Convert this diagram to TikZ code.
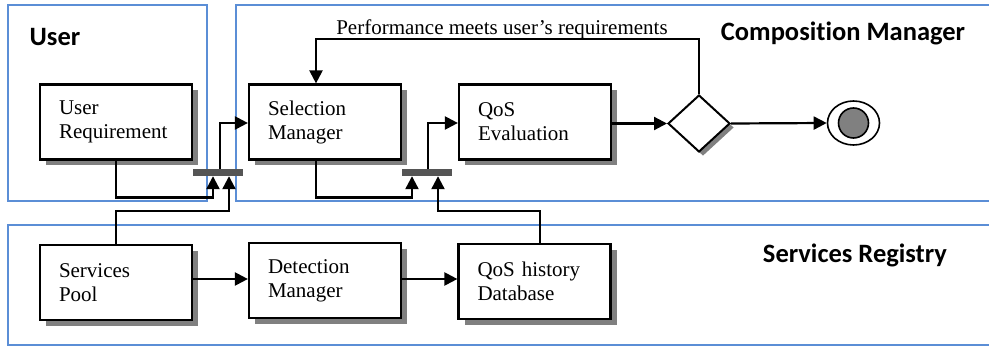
\documentclass[tikz,border=0pt]{standalone}
\usepackage{fontspec}
\setmainfont{Liberation Serif}
\newfontfamily\lblfont[Ligatures=NoCommon]{Carlito}
\usetikzlibrary{shapes.geometric,shadows,arrows.meta}
\definecolor{cblue}{HTML}{5B8ED6}
\definecolor{shgray}{HTML}{808080}
\definecolor{bargray}{HTML}{555555}
\tikzset{
  container/.style={draw=cblue,line width=1.6pt},
  procbox/.style={draw=black,line width=2.2pt,fill=white,rectangle,
    minimum width=152pt,text width=114pt,
    minimum height=75pt,inner xsep=19pt,inner ysep=0pt,align=left,
    font=\fontsize{21}{24}\selectfont,
    general shadow={fill=shgray,shadow xshift=6pt,shadow yshift=-6pt}},
  barbox/.style={rectangle,fill=bargray,minimum width=50pt,minimum height=7pt,inner sep=0pt},
  arr/.style={line width=2.2pt,-{Triangle[length=13pt,width=13pt]}},
  grplabel/.style={font=\lblfont\bfseries\fontsize{26.5}{30}\selectfont,inner sep=0pt},
}
\begin{document}
\begin{tikzpicture}[x=1pt,y=-1pt]
\useasboundingbox (0,0) rectangle (989,347);
\clip (0,0) rectangle (989,347);
% containers
\draw[container] (8,5) rectangle (207,201);
\draw[container] (236,5) rectangle (1000,201);
\draw[container] (8,225) rectangle (1000,345);
\node[grplabel] (lu) at (55,37) {User};
\node[grplabel] (lc) at (843,33) {Composition Manager};
\node[grplabel] (ls) at (855,255) {Services Registry};
% process boxes
\node[procbox] (ur) at (116,122) {User\\Requirement};
\node[procbox] (sm) at (325,122) {Selection\\Manager};
\node[procbox] (qe) at (535,122) {QoS\\Evaluation};
\node[procbox] (sp) at (116,282.5) {Services\\Pool};
\node[procbox] (dt) at (325,280.5) {Detection\\Manager};
\node[procbox] (db) at (534.5,281.5) {QoS history\\Database};
% decision and end
\node[diamond,draw=black,line width=2pt,fill=white,minimum width=62pt,minimum height=57pt,inner sep=0pt,
  general shadow={fill=shgray,shadow xshift=4pt,shadow yshift=-4pt}] (dm) at (699,123.5) {};
\node[ellipse,draw=black,line width=1.6pt,fill=white,minimum width=52pt,minimum height=44pt,inner sep=0pt] (en) at (853.5,123) {};
\node[circle,draw=black,line width=1.6pt,fill=shgray,minimum size=30pt,inner sep=0pt] (enin) at (en.center) {};
% bars
\node[barbox] (bar1) at (218,172.5) {};
\node[barbox] (bar2) at (426.5,172.5) {};
% connectors
\draw[arr] (ur.south) -- ++(0,37) -| ([xshift=-5pt]bar1.south);
\draw[arr] (sp.north) -- ++(0,-33) -| ([xshift=11pt]bar1.south);
\draw[arr] ([xshift=2pt]bar1.north) |- ([yshift=-1pt]sm.west);
\draw[arr] ([xshift=-9pt]sm.south) -- ++(0,37) -| ([xshift=-14.5pt]bar2.south);
\draw[arr] ([xshift=5.5pt]db.north) -- ++(0,-32) -| ([xshift=11.5pt]bar2.south);
\draw[arr] ([xshift=1.5pt]bar2.north) |- ([yshift=-1pt]qe.west);
\draw[arr] (qe.east |- dm.west) -- (dm.west);
\draw[arr] (dm.east) -- (en.west);
\draw[arr] (dm.north) -- ++(0,-55) -| ([xshift=-9pt]sm.north);
\node[font=\fontsize{21}{24}\selectfont,inner sep=0pt,anchor=base] (perf) at (502,35) {Performance meets user’s requirements};
\draw[arr] ([yshift=3.5pt]sp.east) -- ([yshift=1.5pt]dt.west);
\draw[arr] ([yshift=1.5pt]dt.east) -- ([yshift=2.5pt]db.west);
\end{tikzpicture}
\end{document}
